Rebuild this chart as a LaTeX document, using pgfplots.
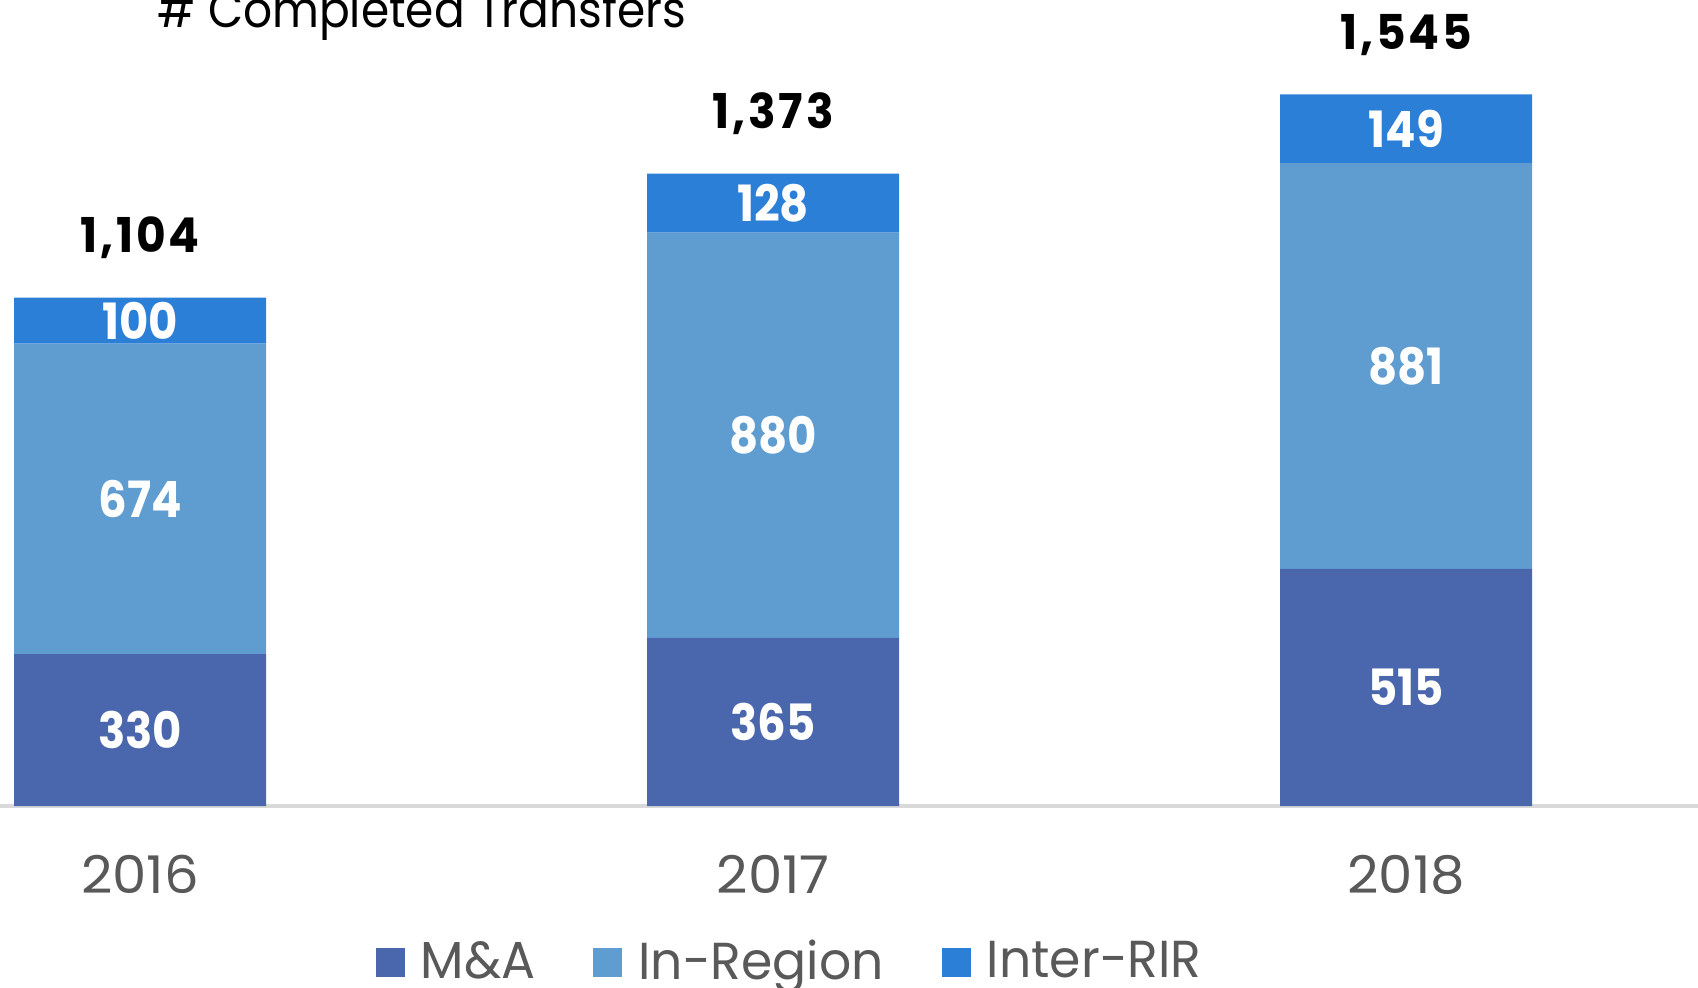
\documentclass[border=0pt]{standalone}
\usepackage{fontspec}
\setmainfont{Poppins}[FakeStretch=0.97]
\newfontfamily\tickfont{Poppins}[FakeStretch=1.05]
\newfontfamily\titlefont{Poppins}[FakeStretch=0.91]
\newfontfamily\valfont{Poppins}[FakeStretch=0.9]
\newfontfamily\totfont{Poppins}[FakeStretch=0.95, LetterSpace=6]
\usepackage{pgfplots}
\pgfplotsset{compat=1.18}
\definecolor{cMA}{RGB}{74,103,173}
\definecolor{cIR}{RGB}{95,157,209}
\definecolor{cRIR}{RGB}{43,127,215}
\definecolor{axgray}{RGB}{217,217,217}
\definecolor{txtgray}{RGB}{89,89,89}

\begin{document}
\begin{tikzpicture}
\pgfplotsset{base/.style={scale only axis, width=424.5pt, height=201.5pt,
  xmin=-0.2212, xmax=2.461, ymin=0, ymax=1750}}
\begin{axis}[base, ybar stacked, bar width=63pt,
  hide y axis, axis x line*=bottom,
  x axis line style={draw=axgray, line width=1pt, -},
  xtick={0,1,2}, xticklabels={2016,2017,2018}, major tick length=0pt,
  xticklabel style={anchor=base, yshift=-21.75pt, font=\tickfont\fontsize{13}{15}\selectfont, text=txtgray},
  legend columns=3,
  legend style={at={(0.2208,-0.2238)}, anchor=south west, draw=none, fill=none,
    inner sep=0pt, font=\fontsize{13}{15}\selectfont, text=txtgray,
    nodes={inner sep=0pt},
    /tikz/every odd column/.append style={column sep=4pt},
    /tikz/every even column/.append style={column sep=14.5pt}},
  legend image code/.code={\fill[#1] (0pt,-3.6pt) rectangle (7.25pt,3.65pt);},
  ]
  \addplot[fill=cMA, draw=none] coordinates {(0,330) (1,365) (2,515)};
  \addlegendentry{M\&A}
  \addplot[fill=cIR, draw=none] coordinates {(0,674) (1,880) (2,881)};
  \addlegendentry{In-Region}
  \addplot[fill=cRIR, draw=none] coordinates {(0,100) (1,128) (2,149)};
  \addlegendentry{Inter-RIR}
\end{axis}

% value labels
\begin{axis}[base, hide axis, point meta=explicit symbolic]
  \addplot[draw=none, mark=none, nodes near coords,
    every node near coord/.append style={anchor=center, text=white,
      font=\valfont\bfseries\fontsize{12.5}{14}\selectfont}]
    coordinates {(0,165)[330] (1,182.5)[365] (2,257.5)[515]
                 (0,667)[674] (1,805)[880] (2,955.5)[881]
                 (0,1054)[100] (1,1309)[128] (2,1470.5)[149]};
  \addplot[draw=none, mark=none, nodes near coords,
    every node near coord/.append style={anchor=base, yshift=11.25pt, text=black,
      font=\totfont\bfseries\fontsize{12}{14}\selectfont}]
    coordinates {(0,1104)[{1,104}] (1,1373)[{1,373}] (2,1545)[{1,545}]};
\end{axis}

\node[anchor=base west, inner sep=0pt, font=\titlefont\fontsize{12.5}{15}\selectfont]
  at (39.25pt,194.5pt) {\# Completed Transfers};

\pgfresetboundingbox
\path (0pt,-45.25pt) rectangle (424.5pt,201.5pt);
\end{tikzpicture}
\end{document}
